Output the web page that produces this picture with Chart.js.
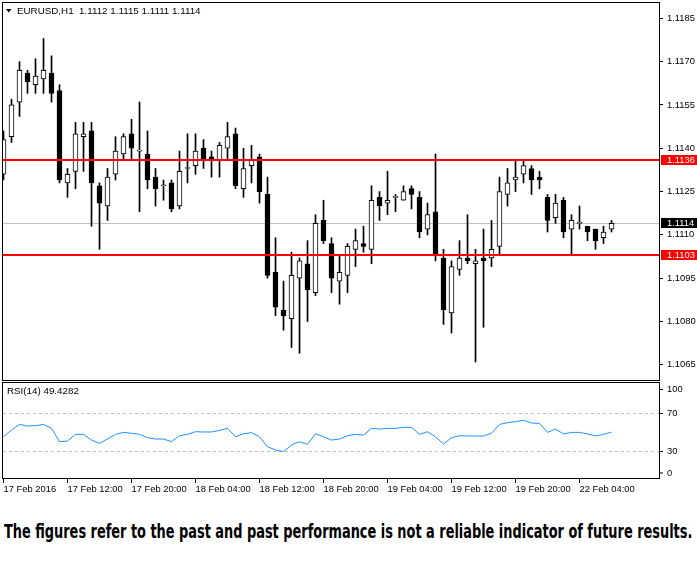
<!DOCTYPE html>
<html>
<head>
<meta charset="utf-8">
<script src="https://cdn.jsdelivr.net/npm/chart.js@4.4.1/dist/chart.umd.min.js"></script>
<style>
  html, body { margin: 0; padding: 0; background: #fff; }
  #wrap { position: relative; width: 697px; height: 569px; overflow: hidden; }
  #chart { position: absolute; left: 0; top: 0; }
  #note {
    position: absolute; left: 4px; top: 519px;
    font: bold 20px "Liberation Sans Narrow", "DejaVu Sans Condensed", sans-serif;
    white-space: nowrap; color: #000; transform-origin: 0 0;
  }
</style>
</head>
<body>
<div id="wrap">
  <canvas id="chart" width="697" height="500"></canvas>
  <div id="note">The figures refer to the past and past performance is not a reliable indicator of future results.</div>
</div>
<script>
// EURUSD H1, one bar per hour starting 17 Feb 2016 04:00
const opens  = [1.1131,1.1144,1.1156,1.1166,1.1162,1.1164,1.1166,1.1160,1.1128,1.1132,
                1.1144,1.1146,1.1127,1.1120,1.1131,1.1138,1.1145,1.1139,1.1138,1.1130,
                1.1127,1.1128,1.1120,1.1133,1.1134,1.1140,1.1137,1.1136,1.1140,1.1145,
                1.1126,1.1134,1.1137,1.1124,1.1097,1.1084,1.1081,1.1095,1.1100,1.1090,
                1.1115,1.1107,1.1094,1.1096,1.1105,1.1107,1.1105,1.1123,1.1121,1.1123,
                1.1122,1.1126,1.1123,1.1112,1.1118,1.1102,1.1083,1.1098,1.1102,1.1100,
                1.1102,1.1102,1.1106,1.1124,1.1129,1.1131,1.1133,1.1130,1.1123,1.1116,
                1.1122,1.1112,1.1114,1.1113,1.1112,1.1109,1.1112];
const highs  = [1.1146,1.1157,1.1170,1.1167,1.1171,1.1178,1.1172,1.1162,1.1133,1.1149,
                1.1149,1.1149,1.1128,1.1133,1.1144,1.1145,1.1150,1.1156,1.1146,1.1133,
                1.1129,1.1129,1.1139,1.1145,1.1145,1.1143,1.1139,1.1142,1.1149,1.1147,
                1.1140,1.1141,1.1138,1.1130,1.1109,1.1094,1.1104,1.1102,1.1108,1.1117,
                1.1122,1.1109,1.1103,1.1107,1.1112,1.1113,1.1127,1.1125,1.1132,1.1124,
                1.1127,1.1127,1.1125,1.1121,1.1138,1.1105,1.1101,1.1108,1.1117,1.1105,
                1.1112,1.1115,1.1130,1.1133,1.1136,1.1136,1.1134,1.1132,1.1124,1.1124,
                1.1123,1.1117,1.1120,1.1113,1.1112,1.1113,1.1115];
const lows   = [1.1129,1.1142,1.1151,1.1159,1.1159,1.1159,1.1156,1.1128,1.1123,1.1126,
                1.1132,1.1113,1.1105,1.1115,1.1129,1.1136,1.1136,1.1118,1.1126,1.1120,
                1.1122,1.1118,1.1119,1.1128,1.1131,1.1133,1.1130,1.1130,1.1136,1.1126,
                1.1123,1.1128,1.1121,1.1095,1.1082,1.1077,1.1071,1.1069,1.1080,1.1089,
                1.1107,1.1090,1.1086,1.1090,1.1099,1.1104,1.1100,1.1115,1.1117,1.1118,
                1.1122,1.1119,1.1109,1.1110,1.1101,1.1079,1.1076,1.1096,1.1100,1.1066,
                1.1078,1.1099,1.1103,1.1120,1.1125,1.1128,1.1124,1.1126,1.1111,1.1114,
                1.1109,1.1103,1.1112,1.1108,1.1105,1.1107,1.1111];
const closes = [1.1143,1.1155,1.1167,1.1163,1.1165,1.1167,1.1159,1.1129,1.1131,1.1145,
                1.1145,1.1128,1.1121,1.1130,1.1139,1.1144,1.1140,1.1139,1.1129,1.1126,
                1.1127,1.1119,1.1132,1.1133,1.1139,1.1136,1.1136,1.1141,1.1144,1.1127,
                1.1133,1.1136,1.1125,1.1096,1.1085,1.1082,1.1096,1.1101,1.1091,1.1114,
                1.1108,1.1095,1.1097,1.1106,1.1108,1.1106,1.1122,1.1120,1.1122,1.1123,
                1.1125,1.1124,1.1111,1.1117,1.1103,1.1084,1.1099,1.1102,1.1101,1.1101,
                1.1101,1.1105,1.1125,1.1128,1.1130,1.1134,1.1129,1.1129,1.1115,1.1121,
                1.1111,1.1115,1.1114,1.1111,1.1108,1.1111,1.1114];
const rsiValues = [44.5,51.6,57.5,55.8,56.1,57.5,53.3,39.3,40,47,
                   47,41,37.5,42.1,47,49.1,48.1,47,43.5,42.1,
                   42.1,39.3,45.6,47,49.8,49.5,49.5,51.2,53.3,44.5,
                   47.7,48.8,44.5,34,30.5,28.8,35.8,39.3,36.5,47.7,
                   44.5,41,42.1,45.6,47,46.3,53.3,52.6,53.3,53.3,
                   54.4,54.4,47,49.8,44.5,36.8,43.5,45.6,45.3,45.3,
                   45.3,48.1,57.5,59.3,60.4,61.8,58.9,58.6,49.1,52.6,
                   47.4,49.1,49.1,47.4,45.3,47,49.4];

const timeTickIdx = [0, 8, 16, 24, 32, 40, 48, 56, 64, 72];
const timeLabels = ['17 Feb 2016', '17 Feb 12:00', '17 Feb 20:00', '18 Feb 04:00', '18 Feb 12:00',
                    '18 Feb 20:00', '19 Feb 04:00', '19 Feb 12:00', '19 Feb 20:00', '22 Feb 04:00'];
const priceTicks = [1.1065, 1.1080, 1.1095, 1.1110, 1.1125, 1.1140, 1.1155, 1.1170, 1.1185];
const rsiTicks = [0, 30, 70, 100];
const rsiLevels = [30, 70];
const levelLines = [1.1136, 1.1103];
const bidPrice = 1.1114;
const headerText = 'EURUSD,H1  1.1112 1.1115 1.1111 1.1114';
const rsiText = 'RSI(14) 49.4282';

const FONT = '"Liberation Sans", Arial, sans-serif';
const FSIZE = 9.4;

const wickData = lows.map((lo, i) => ({ x: i, y: [lo, highs[i]] }));
const bodyData = opens.map((o, i) => ({ x: i, y: [o, closes[i]] }));
const bodyColors = opens.map((o, i) => closes[i] >= o ? '#ffffff' : '#000000');
const rsiData = rsiValues.map((v, i) => ({ x: i, y: v }));

function hline(ctx, x1, x2, y) {
  ctx.beginPath();
  ctx.moveTo(x1, y);
  ctx.lineTo(x2, y);
  ctx.stroke();
}

// no extra room for edge labels, the panes fill the frame
function noPad(s) {
  s.paddingTop = 0; s.paddingBottom = 0; s.paddingLeft = 0; s.paddingRight = 0;
}

const mtPanels = {
  id: 'mtPanels',
  beforeDatasetsDraw(chart) {
    const { ctx, chartArea: a, scales } = chart;
    ctx.save();
    ctx.lineWidth = 1;
    ctx.strokeStyle = '#c0c0c0';
    hline(ctx, a.left, a.right, Math.round(scales.y.getPixelForValue(bidPrice)) + 0.5);
    ctx.setLineDash([3, 3]);
    rsiLevels.forEach(v => {
      hline(ctx, a.left, a.right, Math.round(scales.rsi.getPixelForValue(v)) + 0.5);
    });
    ctx.restore();
  },
  afterDatasetsDraw(chart) {
    const { ctx, chartArea: a, scales } = chart;
    ctx.save();
    ctx.strokeStyle = '#ff0000';
    ctx.lineWidth = 2;
    levelLines.forEach(v => {
      hline(ctx, a.left, a.right, Math.round(scales.y.getPixelForValue(v)));
    });
    ctx.restore();
  },
  afterDraw(chart) {
    const { ctx, chartArea: a, scales } = chart;
    const y = scales.y, rsi = scales.rsi;
    ctx.save();

    // panel frames
    ctx.strokeStyle = '#000';
    ctx.lineWidth = 1;
    const mainBottom = 380.5, rsiTop = 382.5;
    ctx.strokeRect(a.left - 0.5, a.top - 0.5, a.right - a.left, mainBottom - a.top + 0.5);
    ctx.strokeRect(a.left - 0.5, rsiTop, a.right - a.left, a.bottom - rsiTop - 0.5);

    ctx.textBaseline = 'middle';
    ctx.textAlign = 'left';
    ctx.fillStyle = '#000';

    // header
    ctx.beginPath();
    ctx.moveTo(6, 9); ctx.lineTo(11.5, 9); ctx.lineTo(8.75, 12.5); ctx.closePath();
    ctx.fill();
    ctx.font = '9.8px ' + FONT;
    ctx.fillText(headerText, 17, 11);
    ctx.fillText(rsiText, 7, 391);

    // rsi axis labels, kept inside the pane like the terminal does
    ctx.font = FSIZE + 'px ' + FONT;
    rsiTicks.forEach(v => {
      let py = Math.round(rsi.getPixelForValue(v));
      py = Math.min(Math.max(py, rsiTop + 6.5), a.bottom - 6.5);
      ctx.fillRect(a.right, py, 3, 1);
      ctx.fillText(String(v), a.right + 7, py + 0.5);
    });

    // highlighted price boxes
    const boxes = [
      { v: levelLines[0], bg: '#ff0000' },
      { v: bidPrice, bg: '#000000' },
      { v: levelLines[1], bg: '#ff0000' }
    ];
    boxes.forEach(b => {
      const py = Math.round(y.getPixelForValue(b.v));
      ctx.fillStyle = b.bg;
      ctx.fillRect(a.right + 1, py - 5, 697 - a.right - 1, 10);
      ctx.fillStyle = '#fff';
      ctx.fillText(b.v.toFixed(4), a.right + 7, py);
    });
    ctx.restore();
  }
};

Chart.defaults.font.family = FONT;
Chart.defaults.font.size = FSIZE;
Chart.defaults.color = '#000';

new Chart(document.getElementById('chart'), {
  data: {
    datasets: [
      {
        type: 'bar', label: 'wick', data: wickData, yAxisID: 'y',
        backgroundColor: '#000', barThickness: 1, grouped: false, order: 3
      },
      {
        type: 'bar', label: 'body', data: bodyData, yAxisID: 'y',
        backgroundColor: bodyColors, borderColor: '#000', borderWidth: 1,
        borderSkipped: false, barThickness: 5, minBarLength: 1, grouped: false, order: 2
      },
      {
        type: 'line', label: 'RSI', data: rsiData, yAxisID: 'rsi',
        borderColor: '#1e90ff', borderWidth: 1, pointRadius: 0, tension: 0, order: 1
      }
    ]
  },
  options: {
    responsive: false,
    animation: false,
    events: [],
    layout: { padding: { left: 3, top: 3, right: 0, bottom: 0 } },
    plugins: { legend: { display: false }, tooltip: { enabled: false } },
    scales: {
      x: {
        type: 'linear', position: 'bottom', offset: false,
        min: -0.0625, max: 82.0625,
        grid: { offset: false, drawOnChartArea: false, drawTicks: true, tickLength: 4, color: '#000' },
        border: { display: false },
        ticks: {
          align: 'start', padding: 1, maxRotation: 0, autoSkip: false,
          callback: v => timeLabels[timeTickIdx.indexOf(v)]
        },
        afterBuildTicks: s => { s.ticks = timeTickIdx.map(v => ({ value: v })); },
        afterFit: s => { s.height = 21; noPad(s); }
      },
      y: {
        type: 'linear', position: 'right', stack: 'panes', stackWeight: 378, weight: 0,
        min: 1.10594, max: 1.11903,
        grid: { drawOnChartArea: false, drawTicks: true, tickLength: 3, color: '#000' },
        border: { display: false },
        ticks: { padding: 4, callback: v => v.toFixed(4) },
        afterBuildTicks: s => { s.ticks = priceTicks.map(v => ({ value: v })); },
        afterFit: s => { s.width = 37; noPad(s); }
      },
      rsi: {
        type: 'linear', position: 'right', stack: 'panes', stackWeight: 98, weight: 1,
        min: 0, max: 103.2,
        grid: { display: false },
        border: { display: false },
        ticks: { display: false },
        afterFit: s => { s.width = 37; noPad(s); }
      }
    }
  },
  plugins: [mtPanels]
});

// stretch the disclaimer across the page width
const note = document.getElementById('note');
note.style.transform = 'scaleX(' + (688 / note.scrollWidth) + ')';
</script>
</body>
</html>
